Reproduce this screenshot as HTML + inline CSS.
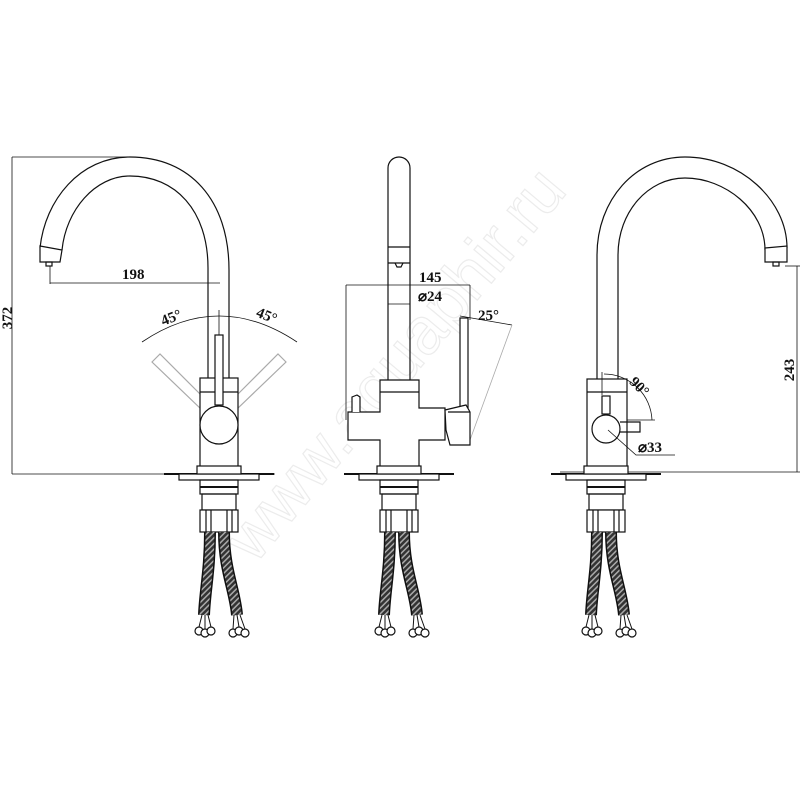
<!DOCTYPE html>
<html><head><meta charset="utf-8"><style>
html,body{margin:0;padding:0;background:#fff;width:800px;height:800px;overflow:hidden}
svg{display:block}
text{font-family:"Liberation Serif",serif;font-size:15px;fill:#111;font-weight:bold}
</style></head><body>
<svg width="800" height="800" viewBox="0 0 800 800" xmlns="http://www.w3.org/2000/svg">
<defs>
<pattern id="br" width="4" height="4" patternUnits="userSpaceOnUse" patternTransform="rotate(45)">
<rect width="4" height="4" fill="#333"/><rect width="1.5" height="4" fill="#aaa"/>
</pattern>
<g id="base" fill="none" stroke="#111" stroke-width="1.2">
<line x1="-55" y1="474" x2="55" y2="474" stroke-width="2"/>
<rect x="-40" y="474" width="80" height="6" fill="#fff"/>
<rect x="-22" y="466" width="44" height="8" fill="#fff"/>
<rect x="-19" y="480" width="38" height="14"/>
<line x1="-19" y1="487" x2="19" y2="487" stroke-width="2"/>
<rect x="-17" y="494" width="34" height="16"/>
<rect x="-19" y="510" width="38" height="22" fill="#fff"/>
<line x1="-13" y1="510" x2="-13" y2="532"/><line x1="-8" y1="510" x2="-8" y2="532"/>
<line x1="8" y1="510" x2="8" y2="532"/><line x1="13" y1="510" x2="13" y2="532"/>
<path d="M-9 532 C-9 570 -14 590 -15 615 M5 532 C5 570 16 590 18 615" stroke="#111" stroke-width="12"/>
<path d="M-9 532 C-9 570 -14 590 -15 615 M5 532 C5 570 16 590 18 615" stroke="url(#br)" stroke-width="9"/>
<circle cx="-20" cy="631" r="4" fill="#fff"/><circle cx="-14" cy="633" r="4" fill="#fff"/><circle cx="-8" cy="631" r="4" fill="#fff"/>
<circle cx="14" cy="633" r="4" fill="#fff"/><circle cx="20" cy="631" r="4" fill="#fff"/><circle cx="26" cy="633" r="4" fill="#fff"/>
<path d="M-17 615 L-20 627 M-14 615 L-14 629 M-11 615 L-8 627 M15 615 L14 629 M18 615 L20 627 M21 615 L26 629" stroke-width="1"/>
</g>
</defs>

<!-- watermark -->
<text x="0" y="0" transform="translate(255,565) rotate(-50)" style="font-size:66px;font-weight:normal;font-family:'Liberation Sans',sans-serif;fill:none;stroke:#ececec;stroke-width:1.2">www.aquaphir.ru</text>

<g fill="none" stroke="#111" stroke-width="1.2">
<!-- LEFT -->
<path d="M40 248 C45 200 80 157 130 157 C190 157 229 200 229 270 L229 378"/>
<path d="M62 250 C66 210 95 176 130 176 C175 176 208 210 208 268 L208 378"/>
<path d="M40 246 L62 250 L60 262 L40 262 Z" fill="#fff"/>
<rect x="46" y="262" width="6" height="4"/>
<line x1="12" y1="157" x2="130" y2="157" stroke-width="0.8"/>
<line x1="12" y1="157" x2="12" y2="474" stroke-width="0.8"/>
<line x1="12" y1="474" x2="275" y2="474" stroke-width="0.8"/>
<line x1="50" y1="266" x2="50" y2="284" stroke-width="0.8"/>
<line x1="50" y1="283" x2="220" y2="283" stroke-width="0.8"/>
<path d="M142 342 Q219 290 297 342" stroke-width="0.8"/>
<line x1="219" y1="310" x2="219" y2="335" stroke-width="0.8"/>
<g stroke="#aaa"><path d="M152 362 L160 354 L208 402 L202 410 Z"/><path d="M286 362 L278 354 L230 402 L236 410 Z"/></g>
<rect x="200" y="378" width="38" height="92" fill="#fff"/>
<line x1="200" y1="392" x2="238" y2="392"/>
<rect x="215" y="335" width="8" height="70" fill="#fff"/>
<circle cx="219" cy="425" r="19" fill="#fff"/>

<!-- MIDDLE -->
<path d="M388 380 L388 168 A11 11 0 0 1 410 168 L410 380"/>
<line x1="388" y1="247" x2="410" y2="247"/><line x1="388" y1="263" x2="410" y2="263"/>
<path d="M395 263 L397 267 L401 267 L403 263"/>
<line x1="346" y1="285" x2="346" y2="420" stroke-width="0.8"/>
<line x1="346" y1="285" x2="470" y2="285" stroke-width="0.8"/>
<line x1="470" y1="285" x2="470" y2="320" stroke-width="0.8"/>
<line x1="388" y1="304" x2="410" y2="304" stroke-width="0.8"/>
<line x1="460" y1="316" x2="512" y2="325" stroke-width="0.8"/>
<path d="M512 325 L470 440" stroke="#aaa" stroke-width="0.8"/>
<path d="M380 380 L419 380 L419 408 L445 408 L445 440 L419 440 L419 468 L380 468 L380 440 L348 440 L348 412 L380 412 Z" fill="#fff"/>
<line x1="380" y1="392" x2="419" y2="392"/>
<path d="M352 412 L352 397 L357 395 L360 397 L360 412" fill="#fff"/>
<rect x="460" y="318" width="8" height="90" fill="#fff"/>
<path d="M445 410 L466 405 L470 412 L470 445 L450 445 L446 430 Z" fill="#fff"/>
<line x1="448" y1="412" x2="470" y2="412"/>

<!-- RIGHT -->
<path d="M597 380 L597 255 C597 200 635 157 685 157 C740 157 787 200 787 248"/>
<path d="M618 380 L618 255 C618 212 648 178 685 178 C725 178 765 210 765 250"/>
<path d="M765 248 L787 246 L787 262 L765 262 Z" fill="#fff"/>
<rect x="773" y="262" width="6" height="4"/>
<line x1="785" y1="266" x2="800" y2="266" stroke-width="0.8"/>
<line x1="797" y1="266" x2="797" y2="472" stroke-width="0.8"/>
<line x1="560" y1="472" x2="800" y2="472" stroke-width="0.8"/>
<rect x="587" y="379" width="40" height="91" fill="#fff"/>
<line x1="587" y1="392" x2="627" y2="392"/>
<line x1="602" y1="372" x2="602" y2="395" stroke-width="0.8"/>
<path d="M604 374 A48 48 0 0 1 652 420" stroke-width="0.8"/>
<line x1="627" y1="420" x2="655" y2="420" stroke-width="0.8"/>
<rect x="602" y="396" width="8" height="18" fill="#fff"/>
<path d="M620 422 L640 422 L640 432 L620 432" />
<circle cx="606" cy="429" r="14" fill="#fff"/>
<path d="M608 430 L636 455 L675 455" stroke-width="0.8"/>
</g>

<use href="#base" x="219" y="0"/>
<use href="#base" x="399" y="0"/>
<use href="#base" x="606" y="0"/>

<text x="122" y="279">198</text>
<text transform="translate(12,318) rotate(-90)" text-anchor="middle">372</text>
<text transform="translate(173,322) rotate(-22)" text-anchor="middle">45°</text>
<text transform="translate(265,320) rotate(22)" text-anchor="middle">45°</text>
<text x="419" y="282">145</text>
<text x="418" y="301">⌀24</text>
<text x="478" y="320">25°</text>
<text transform="translate(636,390) rotate(45)" text-anchor="middle">90°</text>
<text x="638" y="452">⌀33</text>
<text transform="translate(794,370) rotate(-90)" text-anchor="middle">243</text>
</svg>
</body></html>
